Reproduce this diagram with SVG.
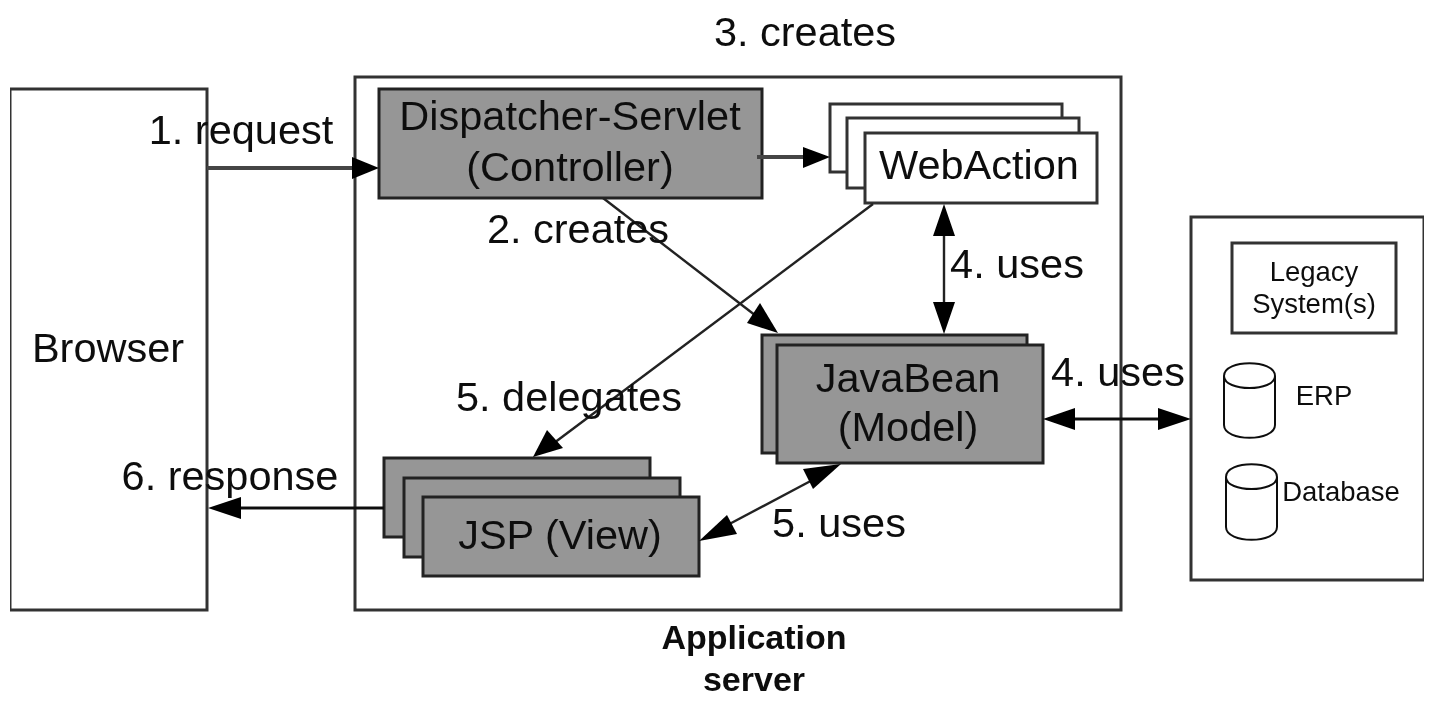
<svg xmlns="http://www.w3.org/2000/svg" width="1451" height="726" viewBox="0 0 1451 726">
<style>
text{font-family:"Liberation Sans",Arial,sans-serif;fill:#111;text-anchor:middle}
.t{font-size:41.5px}
.s{font-size:27.5px}
.b{font-size:34px;font-weight:bold;fill:#111}
.box{fill:#fff;stroke:#333;stroke-width:3}
.g{fill:#969696;stroke:#222;stroke-width:3}
.l{fill:none;stroke:#444;stroke-width:4}
.d{fill:none;stroke:#222;stroke-width:2.4}
.k{fill:none;stroke:#111;stroke-width:3}
.c{fill:#fff;stroke:#111;stroke-width:2}
.a{fill:#000}
</style>
<defs><filter id="soft" x="0" y="0" width="100%" height="100%"><feGaussianBlur stdDeviation="0.55"/></filter></defs>
<rect width="1451" height="726" fill="#fff"/>
<g filter="url(#soft)">
<g id="browser"><rect class="box" x="10" y="89" width="197" height="521"/><text class="t" x="108" y="362">Browser</text></g>
<g id="appserver"><rect class="box" x="355" y="77" width="766" height="533"/><text class="b" x="754" y="649">Application</text><text class="b" x="754" y="691">server</text></g>
<g id="dispatcher"><rect class="g" x="379" y="89" width="383" height="109"/><text class="t" x="570" y="130">Dispatcher-Servlet</text><text class="t" x="570" y="181">(Controller)</text></g>
<g id="webaction"><rect class="box" x="830" y="104" width="232" height="68"/><rect class="box" x="847" y="118" width="232" height="70"/><rect class="box" x="865" y="133" width="232" height="70"/><text class="t" x="979" y="179">WebAction</text></g>
<g id="javabean"><rect class="g" x="762" y="335" width="265" height="118"/><rect class="g" x="777" y="345" width="266" height="118"/><text class="t" x="908" y="392">JavaBean</text><text class="t" x="908" y="441">(Model)</text></g>
<g id="jsp"><rect class="g" x="384" y="458" width="266" height="79"/><rect class="g" x="404" y="478" width="276" height="79"/><rect class="g" x="423" y="497" width="276" height="79"/><text class="t" x="560" y="549">JSP (View)</text></g>
<g id="external"><rect class="box" x="1191" y="217" width="233" height="363"/></g>
<g id="legacy"><rect class="box" x="1232" y="243" width="164" height="90"/><text class="s" x="1314" y="281">Legacy</text><text class="s" x="1314" y="313">System(s)</text></g>
<g id="erp"><path class="c" d="M1224 376V425C1224 442 1275 442 1275 425V376C1275 359 1224 359 1224 376C1224 392 1275 392 1275 376"/><text class="s" x="1324" y="405">ERP</text></g>
<g id="database"><path class="c" d="M1226 477V527C1226 544 1277 544 1277 527V477C1277 460 1226 460 1226 477C1226 493 1277 493 1277 477"/><text class="s" x="1341" y="501">Database</text></g>
<g id="connectors">
<path class="l" d="M207 168H355"/><path class="a" d="M379 168L352 157V179Z"/>
<path class="l" d="M757 157H806"/><path class="a" d="M830 157L803 147V168Z"/>
<path class="d" d="M603 198L760 319"/><path class="a" d="M778 333L747 323L760 303Z"/>
<path class="d" d="M873 204L550 446"/><path class="a" d="M533 457L547 430L563 448Z"/>
<path class="d" d="M944 230V310"/><path class="a" d="M944 204L933 236H955Z"/><path class="a" d="M944 334L933 302H955Z"/>
<path class="k" d="M1070 419H1165"/><path class="a" d="M1043 419L1075 408V430Z"/><path class="a" d="M1191 419L1158 408V430Z"/>
<path class="d" d="M720 529L820 476"/><path class="a" d="M699 541L727 515L737 534Z"/><path class="a" d="M841 464L813 489L803 469Z"/>
<path class="k" d="M384 508H235"/><path class="a" d="M208 508L241 497V519Z"/>
</g>
<g id="labels">
<text class="t" x="805" y="46">3. creates</text>
<text class="t" x="241" y="144">1. request</text>
<text class="t" x="578" y="243">2. creates</text>
<text class="t" x="1017" y="278">4. uses</text>
<text class="t" x="1118" y="386">4. uses</text>
<text class="t" x="569" y="411">5. delegates</text>
<text class="t" x="230" y="490">6. response</text>
<text class="t" x="839" y="537">5. uses</text>
</g>
</g>
</svg>
